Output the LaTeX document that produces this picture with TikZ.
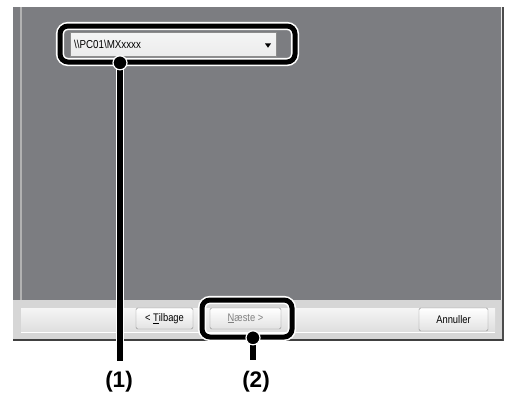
\documentclass[tikz,border=0pt]{standalone}
\usepackage{fontspec}
\setmainfont{Liberation Sans}
\newfontfamily\uifont[FakeStretch=0.85]{Liberation Sans}
\usetikzlibrary{shapes.geometric}
\definecolor{panelgray}{RGB}{124,125,129}
\definecolor{bargray}{RGB}{214,214,214}
\definecolor{edgegray}{RGB}{140,140,140}
\tikzset{
    hilite/.style={draw=white, line width=1.6pt, double=black, double distance=5pt,
        rounded corners=8pt, inner sep=0pt},
    leader/.style={draw=white, line width=1.4pt, double=black, double distance=5.5pt},
    knob/.style={circle, fill=black, draw=white, line width=1.2pt, minimum size=14pt, inner sep=0pt},
    btn/.style={draw=edgegray, rounded corners=1.5pt, top color=white, bottom color=bargray!70,
        minimum height=21pt, inner sep=0pt, font=\uifont\fontsize{11}{12}\selectfont},
    num/.style={font=\bfseries\fontsize{22.5}{26}\selectfont}
}

\begin{document}
\begin{tikzpicture}[x=1pt, y=-1pt]
    \useasboundingbox[fill=white](0,0)rectangle(506,397);
    % window
    \fill[panelgray](13,7)rectangle(501,300);
    \draw[gray!60, line width=2pt](21,7)--(21,300);
    \draw[white!85!gray, line width=1pt](501.5,7)--(501.5,340);
    \draw[black!70, line width=1.2pt](503,7)--(503,341);
    \fill[bargray](13,300)rectangle(502,339);
    \shade[top color=white!92!gray, bottom color=bargray!80](21,308)rectangle(495,332);
    \draw[white, line width=1pt](21,332.5)--(495,332.5);
    \draw[black!75, line width=1.5pt](13,340)--(503,340);
    % combo box
    \node[draw=edgegray, top color=white!92!panelgray, bottom color=white!85!panelgray,
        minimum width=206pt, minimum height=24pt, inner sep=0pt](combo) at (173,44) {};
    \node[anchor=west, inner sep=0pt, font=\uifont\fontsize{11.5}{12}\selectfont] (path) at (74,44.5) {\textbackslash\textbackslash PC01\textbackslash MXxxxx};
    \node[isosceles triangle, isosceles triangle apex angle=70, shape border rotate=-90, fill=black,
        minimum width=6pt, minimum height=4pt, inner sep=0pt](drop) at (268,45) {};
    % buttons
    \node[btn, minimum width=57pt](back) at (164.5,318.5) {< \underline{T}ilbage};
    \node[btn, minimum width=71pt, text=gray](next) at (245.5,318.5) {\underline{N}æste >};
    \node[btn, minimum width=69pt, minimum height=23pt](cancel) at (453.5,319.5) {Annuller};
    % callouts
    \node[hilite, minimum width=235pt, minimum height=36pt](frame1) at (177.5,44) {};
    \node[hilite, minimum width=90pt, minimum height=37pt](frame2) at (247,318.5) {};
    \node[num](lab1) at (119,382) {(1)};
    \node[num](lab2) at (256,382) {(2)};
    \coordinate (end1) at (120,361);
    \coordinate (end2) at (253,360);
    \draw[leader](frame1.south -| end1)--(end1);
    \draw[leader](frame2.south -| end2)--(end2);
    \node[knob] at (frame1.south -| end1) {};
    \node[knob] at (frame2.south -| end2) {};
\end{tikzpicture}
\end{document}
